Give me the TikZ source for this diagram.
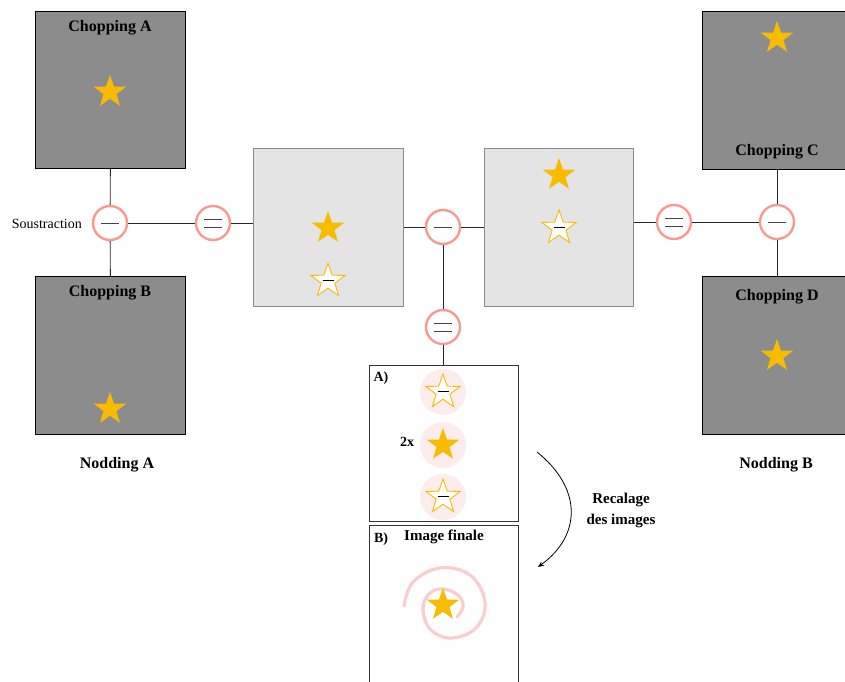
\documentclass[tikz,border=0pt]{standalone}
\usepackage{fontspec}
\setmainfont{Liberation Serif}
\usetikzlibrary{shapes.geometric,arrows.meta}
\definecolor{amber}{HTML}{F9BB00}
\definecolor{salmon}{HTML}{F99A90}
\definecolor{darkbox}{HTML}{8C8C8C}
\definecolor{lightbox}{HTML}{E4E4E4}
\definecolor{lightedge}{HTML}{8A8A8A}
\definecolor{pinkfill}{HTML}{FDECEC}
\definecolor{spiralpink}{HTML}{F9C9C9}
\definecolor{opline}{HTML}{444444}
\begin{document}
\begin{tikzpicture}[x=1pt,y=-1pt,
  darkrect/.style={draw=black, line width=0.8pt, fill=darkbox, inner sep=0pt, anchor=north west},
  lightrect/.style={draw=lightedge, line width=1pt, fill=lightbox, inner sep=0pt, anchor=north west},
  whiterect/.style={draw=black!80, line width=0.9pt, fill=white, inner sep=0pt, anchor=north west},
  ttl/.style={font=\fontsize{16}{18}\selectfont\bfseries, inner sep=0pt},
  lbl/.style={font=\fontsize{14}{16}\selectfont\bfseries, inner sep=0pt},
  fstar/.style={star, star points=5, star point ratio=2.5, fill=amber, minimum size=34pt, inner sep=0pt},
  ostar/.style={star, star points=5, star point ratio=2.5, draw=amber, fill=white, line width=0.9pt, minimum size=36pt, inner sep=0pt,
    path picture={\draw[black, line width=1.1pt] ([xshift=-5.5pt,yshift=-1.5pt]path picture bounding box.center) -- ([xshift=5.5pt,yshift=-1.5pt]path picture bounding box.center);}},
  op/.style={circle, draw=salmon, line width=2.4pt, fill=white, minimum size=34pt, inner sep=0pt},
  minusop/.style={op, path picture={\draw[opline, line width=1pt] ([xshift=-9pt]path picture bounding box.center) -- ([xshift=9pt]path picture bounding box.center);}},
  eqop/.style={op, path picture={\draw[opline, line width=1pt] ([xshift=-9pt,yshift=4pt]path picture bounding box.center) -- ([xshift=9pt,yshift=4pt]path picture bounding box.center)
      ([xshift=-9pt,yshift=-4pt]path picture bounding box.center) -- ([xshift=9pt,yshift=-4pt]path picture bounding box.center);}},
  pinkdisk/.style={circle, fill=pinkfill, minimum size=46pt, inner sep=0pt},
  conn/.style={draw=black!85, line width=0.8pt}
]
\useasboundingbox (0,0) rectangle (845,681);

% boxes
\node[darkrect, minimum width=150pt, minimum height=157pt] (chA) at (35,11) {};
\node[darkrect, minimum width=150pt, minimum height=158pt] (chB) at (35,276) {};
\node[darkrect, minimum width=150pt, minimum height=158pt] (chC) at (702,11) {};
\node[darkrect, minimum width=150pt, minimum height=158pt] (chD) at (702,276) {};
\node[lightrect, minimum width=150pt, minimum height=158pt] (lb1) at (253,148) {};
\node[lightrect, minimum width=149pt, minimum height=158pt] (lb2) at (484,148) {};
\node[whiterect, minimum width=149pt, minimum height=156pt] (bxA) at (369,365) {};
\node[whiterect, minimum width=149pt, minimum height=170pt] (bxB) at (369,525) {};

% titles
\node[ttl] (tA) at (110,28) {Chopping A};
\node[ttl] (tB) at (110,293) {Chopping B};
\node[ttl] (tC) at (777,152) {Chopping C};
\node[ttl] (tD) at (777,297) {Chopping D};
\node[ttl] (nA) at (117,465) {Nodding A};
\node[ttl] (nB) at (776,465) {Nodding B};

% stars in boxes
\node[fstar] (sA) at (110,92) {};
\node[fstar] (sB) at (110,409) {};
\node[fstar] (sC) at (777,38) {};
\node[fstar] (sD) at (777,356) {};
\node[fstar] (s1f) at (328,228) {};
\node[ostar] (s1o) at (328,281) {};
\node[fstar] (s2f) at (559,175) {};
\node[ostar] (s2o) at (559,228) {};

% operators
\node[minusop] (op1) at (110,223) {};
\node[eqop] (eq1) at (213,223) {};
\node[minusop] (op2) at (443,227) {};
\node[eqop] (eq2) at (443,327) {};
\node[eqop] (eq3) at (674,222) {};
\node[minusop] (op3) at (777,222) {};
\node[font=\fontsize{14}{16}\selectfont, inner sep=0pt, anchor=east] (sous) at (82,224) {Soustraction};

% connectors
\draw[conn] (chA.south) -- (op1);
\draw[conn] (op1) -- (chB.north);
\draw[conn] (op1) -- (eq1);
\draw[conn] (eq1) -- (eq1 -| lb1.west);
\draw[conn] (lb1.east |- op2) -- (op2);
\draw[conn] (op2) -- (op2 -| lb2.west);
\draw[conn] (op2) -- (eq2);
\draw[conn] (eq2) -- (eq2 |- bxA.north);
\draw[conn] (lb2.east |- eq3) -- (eq3);
\draw[conn] (eq3) -- (op3);
\draw[conn] (chC.south -| op3) -- (op3);
\draw[conn] (op3) -- (chD.north -| op3);

% box A contents
\node[pinkdisk] (dA1) at (443,392) {};
\node[pinkdisk] (dA2) at (443,445) {};
\node[pinkdisk] (dA3) at (443,497) {};
\node[ostar] (sA1) at (443,392) {};
\node[fstar] (sA2) at (443,445) {};
\node[ostar] (sA3) at (443,497) {};
\node[lbl] (lA) at (381,378) {A)};
\node[lbl] (two) at (407,442) {2x};

% box B contents
\node[lbl] (lB) at (381,539) {B)};
\node[ttl, font=\fontsize{15}{17}\selectfont\bfseries] (fin) at (444,537) {Image finale};
\draw[spiralpink, line width=3.2pt, line cap=round, opacity=0.9]
  plot[smooth, tension=0.65] coordinates {(404,606) (413,582) (440,568) (470,575) (485,602) (476,628) (451,638) (430,629) (423,608) (430,593) (444,589) (459,596) (463,607) (457,617)};
\node[fstar] (sfin) at (443,605) {};

% registration arrow
\coordinate (arS) at (537,452);
\coordinate (arE) at (538,567);
\draw[black, line width=0.8pt, -{Stealth[length=6pt,width=5pt]}] (arS) .. controls (582,488) and (582,535) .. (arE);
\node[ttl, align=center, font=\fontsize{15}{21}\selectfont\bfseries] (rec) at (621,510) {Recalage\\des images};
\end{tikzpicture}
\end{document}
